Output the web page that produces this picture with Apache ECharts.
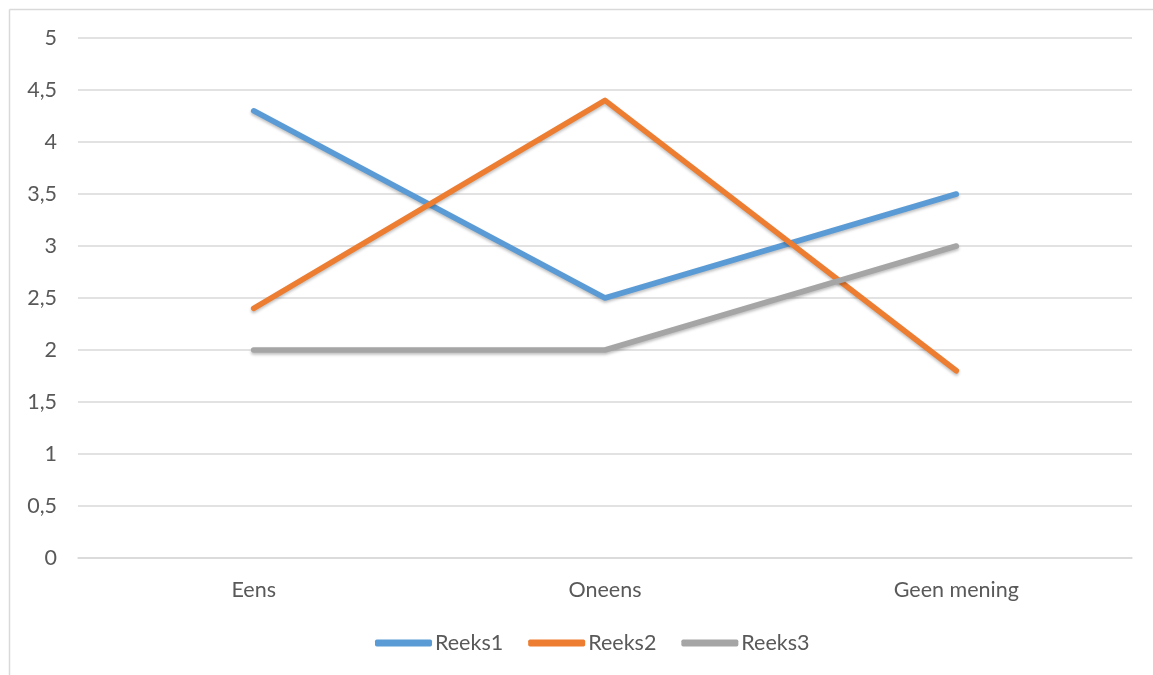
<!DOCTYPE html>
<html>
<head>
<meta charset="utf-8">
<script src="https://cdn.jsdelivr.net/npm/echarts@6/dist/echarts.min.js"></script>
<style>
html,body{margin:0;padding:0;background:#fff;}
#c{width:1153px;height:675px;}
</style>
</head>
<body>
<div id="c"></div>
<script>
const categories = ['Eens', 'Oneens', 'Geen mening'];
const reeks1 = [4.3, 2.5, 3.5];
const reeks2 = [2.4, 4.4, 1.8];
const reeks3 = [2, 2, 3];
const seriesNames = ['Reeks1', 'Reeks2', 'Reeks3'];
const colors = ['#5B9BD5', '#ED7D31', '#A5A5A5'];

const chart = echarts.init(document.getElementById('c'));
const font = 'Lato, "Open Sans", sans-serif';
const mk = (name, data, color) => ({
  name, type: 'line', data, showSymbol: false, symbol: 'none',
  lineStyle: { width: 5.5, color, cap: 'round', join: 'round',
    shadowColor: 'rgba(0,0,0,0.25)', shadowBlur: 3, shadowOffsetY: 2 },
  itemStyle: { color },
  animation: false
});
chart.setOption({
  animation: false,
  color: colors,
  graphic: [
    { type: 'line', shape: { x1: 9.5, y1: 9.5, x2: 9.5, y2: 675 }, style: { stroke: '#d9d9d9', lineWidth: 1.5 } },
    { type: 'line', shape: { x1: 9.5, y1: 9.5, x2: 1153, y2: 9.5 }, style: { stroke: '#d9d9d9', lineWidth: 1.5 } }
  ],
  grid: { left: 78, right: 21, top: 38, bottom: 117, containLabel: false },
  legend: {
    bottom: 16, left: 370,
    icon: 'roundRect', itemWidth: 57, itemHeight: 7, itemGap: 25,
    textStyle: { color: '#595959', fontSize: 21.5, fontFamily: font, padding: [0, 0, 0, -2] },
    data: seriesNames
  },
  xAxis: {
    type: 'category', data: categories, boundaryGap: true,
    axisLine: { show: true, lineStyle: { color: '#d9d9d9', width: 1.5 } },
    axisTick: { show: false },
    axisLabel: { color: '#595959', fontSize: 21.5, fontFamily: font, margin: 21 }
  },
  yAxis: {
    type: 'value', min: 0, max: 5, interval: 0.5,
    axisLine: { show: false }, axisTick: { show: false },
    splitLine: { lineStyle: { color: '#d9d9d9', width: 1.5 } },
    axisLabel: { color: '#595959', fontSize: 21.5, fontFamily: font, margin: 21,
      formatter: v => String(v).replace('.', ',') }
  },
  series: [
    mk(seriesNames[0], reeks1, colors[0]),
    mk(seriesNames[1], reeks2, colors[1]),
    mk(seriesNames[2], reeks3, colors[2])
  ]
});
</script>
</body>
</html>
